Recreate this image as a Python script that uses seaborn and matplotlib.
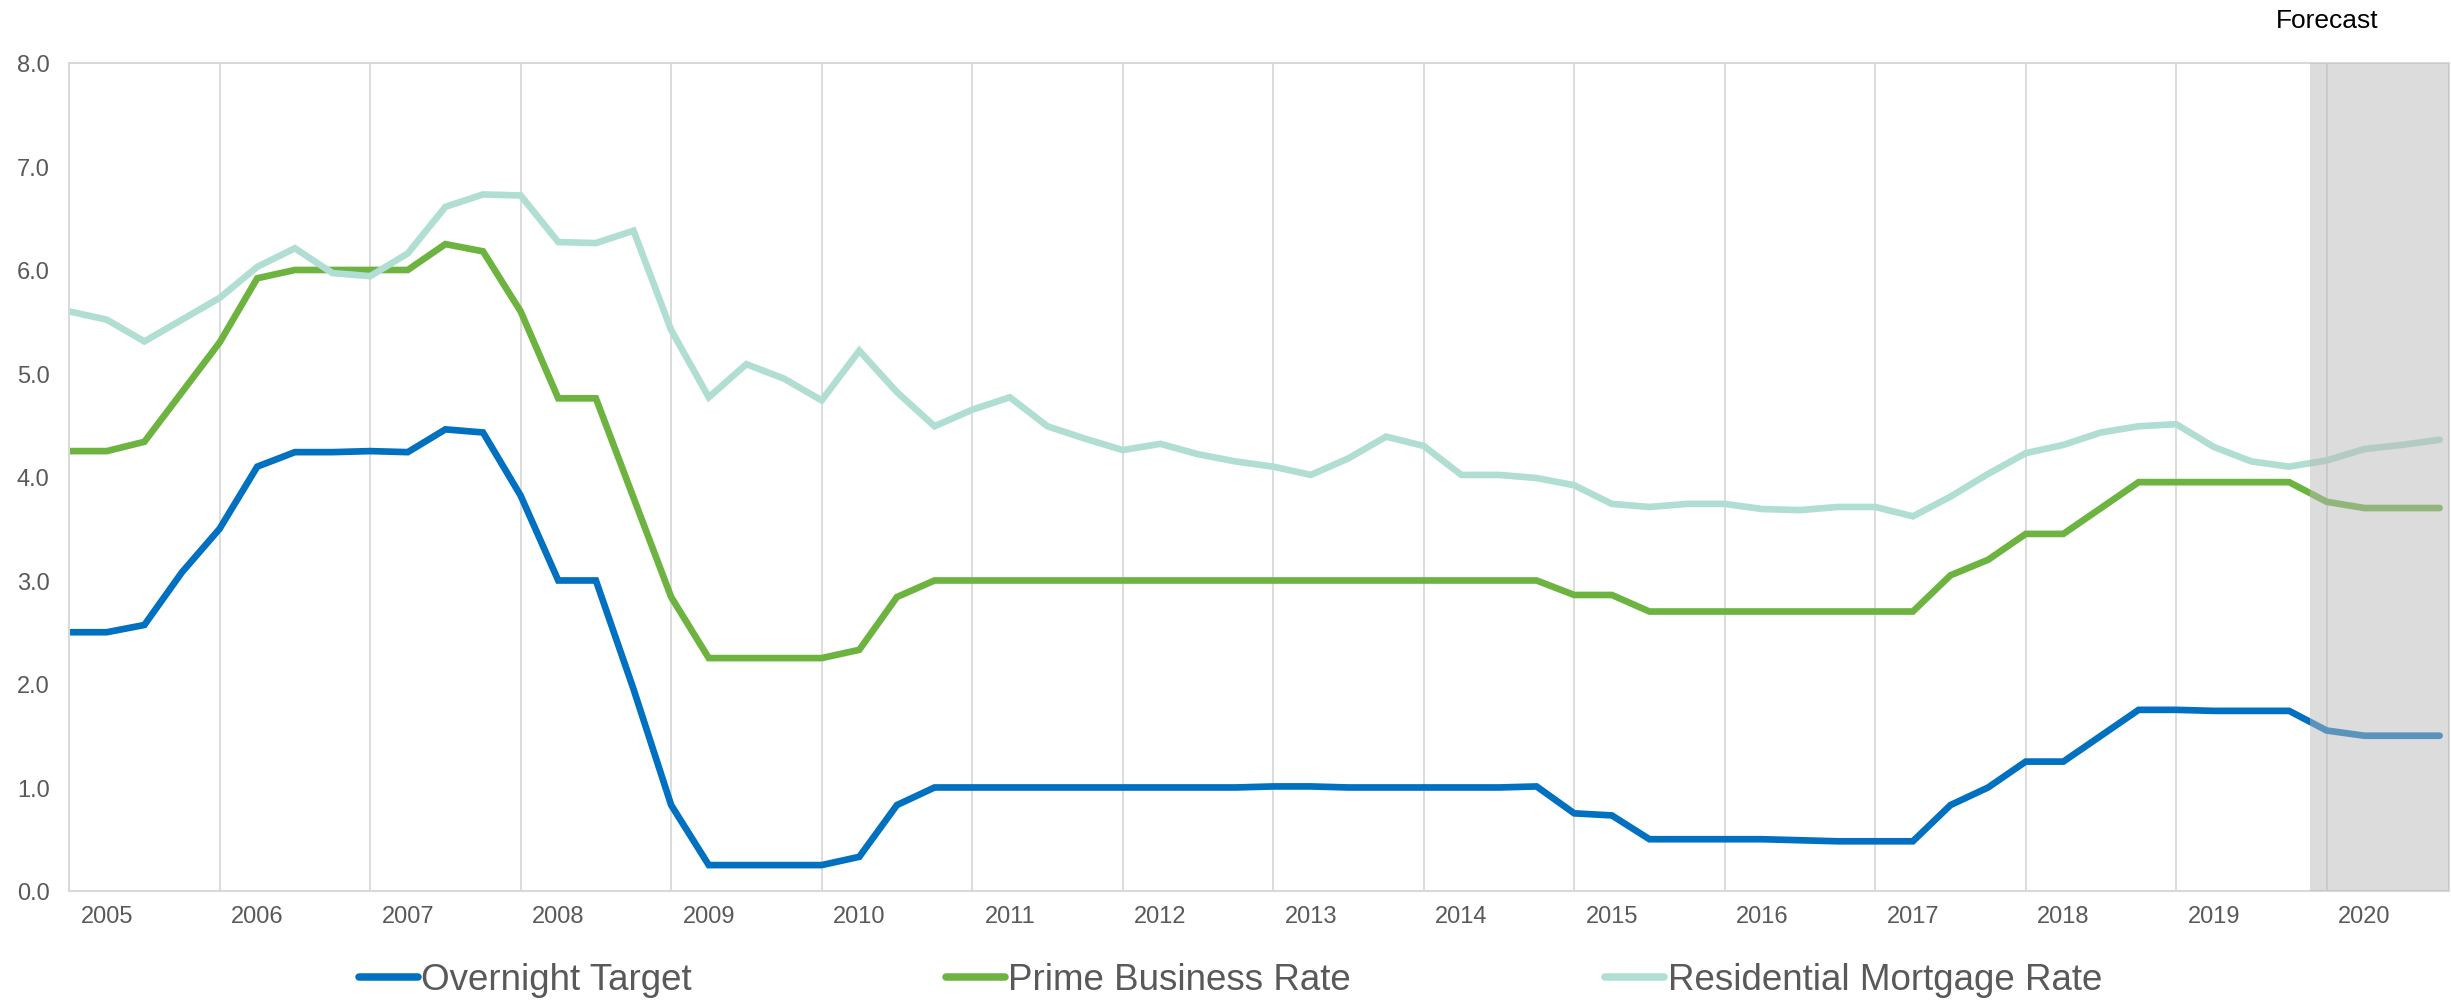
import numpy as np
import pandas as pd
import matplotlib
matplotlib.use("Agg")
import matplotlib.pyplot as plt
from matplotlib.lines import Line2D
import seaborn as sns

# Quarterly rates (%), 2004Q4 through 2020Q3
quarters = pd.period_range("2004Q4", periods=64, freq="Q")

overnight_target = [
    2.50, 2.50, 2.57, 3.08, 3.50, 4.10, 4.24, 4.24, 4.25, 4.24, 4.46, 4.43,
    3.82, 3.00, 3.00, 1.95, 0.83, 0.25, 0.25, 0.25, 0.25, 0.33, 0.83, 1.00,
    1.00, 1.00, 1.00, 1.00, 1.00, 1.00, 1.00, 1.00, 1.01, 1.01, 1.00, 1.00,
    1.00, 1.00, 1.00, 1.01, 0.75, 0.73, 0.50, 0.50, 0.50, 0.50, 0.49, 0.48,
    0.48, 0.48, 0.83, 1.00, 1.25, 1.25, 1.50, 1.75, 1.75, 1.74, 1.74, 1.74,
    1.55, 1.50, 1.50, 1.50,
]
prime_business_rate = [
    4.25, 4.25, 4.34, 4.82, 5.30, 5.92, 6.00, 6.00, 6.00, 6.00, 6.25, 6.18,
    5.60, 4.76, 4.76, 3.80, 2.84, 2.25, 2.25, 2.25, 2.25, 2.33, 2.84, 3.00,
    3.00, 3.00, 3.00, 3.00, 3.00, 3.00, 3.00, 3.00, 3.00, 3.00, 3.00, 3.00,
    3.00, 3.00, 3.00, 3.00, 2.86, 2.86, 2.70, 2.70, 2.70, 2.70, 2.70, 2.70,
    2.70, 2.70, 3.05, 3.20, 3.45, 3.45, 3.70, 3.95, 3.95, 3.95, 3.95, 3.95,
    3.76, 3.70, 3.70, 3.70,
]
residential_mortgage_rate = [
    5.60, 5.52, 5.31, 5.52, 5.73, 6.03, 6.21, 5.97, 5.94, 6.16, 6.61, 6.73,
    6.72, 6.27, 6.26, 6.38, 5.42, 4.77, 5.09, 4.95, 4.74, 5.22, 4.82, 4.49,
    4.65, 4.77, 4.49, 4.37, 4.26, 4.32, 4.22, 4.15, 4.10, 4.02, 4.18, 4.39,
    4.30, 4.02, 4.02, 3.99, 3.92, 3.74, 3.71, 3.74, 3.74, 3.69, 3.68, 3.71,
    3.71, 3.62, 3.81, 4.03, 4.23, 4.31, 4.43, 4.49, 4.51, 4.29, 4.15, 4.10,
    4.16, 4.27, 4.31, 4.36,
]

series_names = ["Overnight Target", "Prime Business Rate", "Residential Mortgage Rate"]
series_colors = ["#0070c0", "#6db33f", "#b1ded3"]
forecast_start = 59.55  # forecast period begins between 2019Q3 and 2019Q4

pos = np.arange(len(quarters))
df = pd.concat(
    [
        pd.DataFrame({"pos": pos, "rate": vals, "series": name})
        for name, vals in zip(series_names,
                              [overnight_target, prime_business_rate, residential_mortgage_rate])
    ],
    ignore_index=True,
)

sns.set_theme(style="white")
plt.rcParams["font.family"] = ["Liberation Sans", "DejaVu Sans"]

fig = plt.figure(figsize=(24.51, 10.03), dpi=100)
ax = fig.add_axes([0.0282, 0.1107, 0.9710, 0.8255])

sns.lineplot(
    data=df, x="pos", y="rate", hue="series", hue_order=series_names,
    palette=dict(zip(series_names, series_colors)), linewidth=4.8,
    legend=False, ax=ax, sort=False, errorbar=None,
)
for ln in ax.get_lines():
    ln.set_solid_capstyle("round")
    ln.set_solid_joinstyle("miter")

x_max = 63.25
ax.set_xlim(0, x_max)
ax.set_ylim(0, 8)

# Year labels at each first quarter, year separators at each fourth quarter
label_pos = [p for p, q in zip(pos, quarters) if q.quarter == 1]
label_txt = [str(q.year) for q in quarters if q.quarter == 1]
grid_pos = [p for p, q in zip(pos, quarters) if q.quarter == 4 and p > 0]
ax.set_xticks(label_pos)
ax.set_xticklabels(label_txt)
ax.set_xticks(grid_pos, minor=True)
ax.grid(False)
ax.grid(True, which="minor", axis="x", color="#d9d9d9", linewidth=1.3)
ax.set_yticks(np.arange(0, 9, 1))
ax.set_yticklabels([f"{v:.1f}" for v in np.arange(0, 9, 1)])
ax.tick_params(axis="both", which="both", length=0, labelsize=17, labelcolor="#595959")
ax.tick_params(axis="y", pad=14)
ax.tick_params(axis="x", pad=10)
ax.set_xlabel("")
ax.set_ylabel("")
for sp in ax.spines.values():
    sp.set_visible(True)
    sp.set_color("#d9d9d9")
    sp.set_linewidth(1.5)

# Forecast shading drawn over the lines
ax.axvspan(forecast_start, x_max, facecolor=(0.72, 0.72, 0.72), alpha=0.49,
           linewidth=0, zorder=5)
ax.text(60, 8.42, "Forecast", ha="center", va="center", fontsize=19,
        color="black", clip_on=False)

handles = [Line2D([], [], color=c, linewidth=5.4, solid_capstyle="round")
           for c in series_colors]
leg = fig.legend(
    handles, series_names, loc="center", bbox_to_anchor=(0.502, 1 - 981 / 1003),
    ncol=3, frameon=False, fontsize=26.5, handlelength=1.6, handletextpad=0.1,
    columnspacing=6.9, borderpad=0,
)
for t in leg.get_texts():
    t.set_color("#595959")

fig.savefig("out.png", dpi=100)
